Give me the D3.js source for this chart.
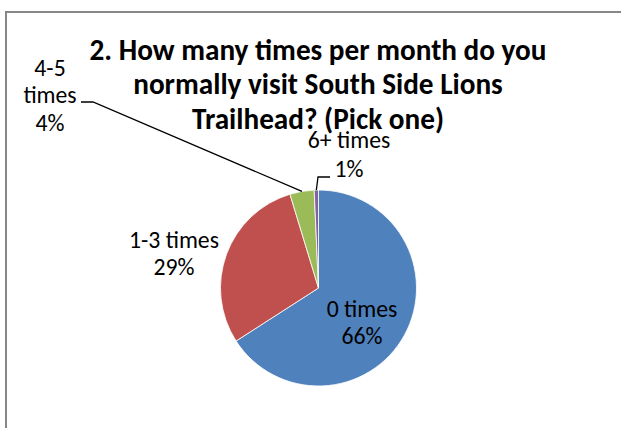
<!DOCTYPE html>
<html>
<head>
<meta charset="utf-8">
<script src="https://cdn.jsdelivr.net/npm/d3@7"></script>
<style>
  html, body { margin: 0; padding: 0; background: #fff; overflow: hidden; }
  svg { display: block; }
</style>
</head>
<body>
<svg id="chart" width="621" height="428"></svg>
<script>
// ---- data ----
const categories = ["0 times", "1-3 times", "4-5 times", "6+ times"];
const shares = [65.9, 29.4, 4.0, 0.7];
const titleLines = ["2. How many times per month do you", "normally visit South Side Lions", "Trailhead? (Pick one)"];

// ---- layout / style ----
const W = 621, H = 428;
const colors = ["#4F81BD", "#C0504D", "#9BBB59", "#8064A2"];
const cx = 318.5, cy = 288, R = 98;
const FONT = "Carlito, Calibri, Lato, 'Open Sans', sans-serif";

const svg = d3.select("#chart");

// chart border
svg.append("rect")
  .attr("x", 6).attr("y", 12)
  .attr("width", W + 20).attr("height", H + 20)
  .attr("fill", "#fff")
  .attr("stroke", "#878787").attr("stroke-width", 2);

// title
const title = svg.append("text")
  .attr("font-family", FONT).attr("font-weight", "bold")
  .attr("text-anchor", "middle").attr("fill", "#000");
const titleBase = [59.5, 94, 129];
titleLines.forEach((t, i) => {
  title.append("tspan").attr("x", 318).attr("y", titleBase[i]).text(t);
});
// fit font size so first line spans reference width
title.attr("font-size", 27);
{
  const w = title.select("tspan").node().getComputedTextLength();
  title.attr("font-size", 27 * 457 / w);
}

// pie
const pie = d3.pie().sort(null).value(d => d).startAngle(0).endAngle(2 * Math.PI);
const arcs = pie(shares);
const arc = d3.arc().innerRadius(0).outerRadius(R);
const g = svg.append("g").attr("transform", `translate(${cx},${cy})`);
g.selectAll("path").data(arcs).join("path")
  .attr("d", arc)
  .attr("fill", (d, i) => colors[i])
  .attr("stroke", "#fff").attr("stroke-width", 0.8);

// labels
const pctFmt = v => Math.round(v) + "%";
const mid = d => (d.startAngle + d.endAngle) / 2;
const onRim = (d, r) => [Math.sin(mid(d)) * r, -Math.cos(mid(d)) * r];

// label layout (relative to pie centre): anchor x, first baseline y, lines
const labelLayout = [
  { dx: 43.5, dy: 28.7, lines: ["0 times", "{p}"] },
  { dx: -144.5, dy: -40.5, lines: ["1-3 times", "{p}"] },
  { dx: -268.5, dy: -212.5, lines: ["4-5", "times", "{p}"] },
  { dx: 30.5, dy: -140, lines: ["6+ times", "{p}"], lh: 28.7 }
];
const LH = 27.6;

const labels = svg.append("g").attr("font-family", FONT).attr("fill", "#000")
  .attr("text-anchor", "middle");
const labelTexts = [];
arcs.forEach((d, i) => {
  const L = labelLayout[i];
  const t = labels.append("text");
  L.lines.forEach((ln, j) => {
    t.append("tspan")
      .attr("x", cx + L.dx)
      .attr("y", cy + L.dy + j * (L.lh || LH))
      .text(ln.replace("{p}", pctFmt(shares[i])));
  });
  labelTexts.push(t);
});
// fit label font so "1-3 times" matches reference width
labels.attr("font-size", 22);
{
  const w = labelTexts[1].select("tspan").node().getComputedTextLength();
  labels.attr("font-size", 22 * 90 / w);
}

// leader lines
const lead = svg.append("g").attr("fill", "none").attr("stroke", "#000").attr("stroke-width", 1.3);
{
  const d = arcs[2];
  const p = onRim(d, R);
  lead.append("polyline").attr("points",
    [[81, 102], [93, 102], [cx + p[0], cy + p[1]]].map(q => q.join(",")).join(" "));
}
{
  const d = arcs[3];
  const p = onRim(d, R);
  lead.append("polyline").attr("points",
    [[cx + p[0], cy + p[1]], [318, 177], [330, 177]].map(q => q.join(",")).join(" "));
}
</script>
</body>
</html>
